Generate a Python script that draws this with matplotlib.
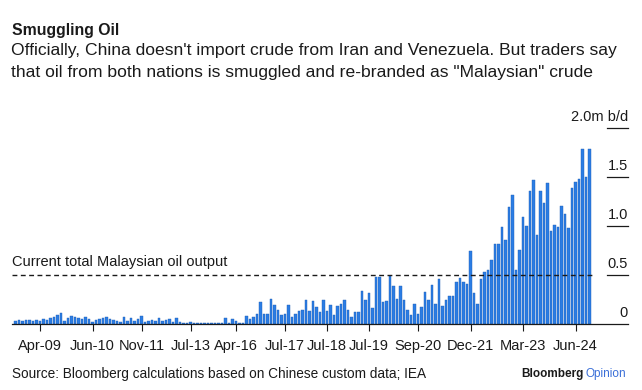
import matplotlib
matplotlib.use('Agg')
import matplotlib.pyplot as plt
import matplotlib.transforms as mtransforms

plt.rcParams['font.family'] = ['Liberation Sans', 'DejaVu Sans']

# monthly "Malaysian" crude imports into China, m b/d
values = [
    0.03, 0.04, 0.03, 0.04, 0.04, 0.03, 0.04, 0.03, 0.05, 0.04,
    0.06, 0.07, 0.09, 0.11, 0.03, 0.06, 0.08, 0.07, 0.06, 0.05,
    0.07, 0.05, 0.02, 0.04, 0.05, 0.06, 0.07, 0.05, 0.04, 0.03,
    0.02, 0.07, 0.03, 0.06, 0.03, 0.05, 0.08, 0.02, 0.03, 0.04,
    0.03, 0.06, 0.03, 0.04, 0.05, 0.02, 0.06, 0.02, 0.01, 0.01,
    0.02, 0.01, 0.01, 0.01, 0.01, 0.01, 0.01, 0.01, 0.01, 0.01,
    0.06, 0.01, 0.05, 0.03, 0.01, 0.01, 0.08, 0.05, 0.07, 0.10,
    0.22, 0.10, 0.10, 0.26, 0.19, 0.14, 0.09, 0.10, 0.19, 0.07,
    0.10, 0.13, 0.14, 0.24, 0.13, 0.23, 0.17, 0.12, 0.24, 0.13,
    0.19, 0.09, 0.18, 0.20, 0.24, 0.14, 0.07, 0.12, 0.12, 0.34,
    0.24, 0.32, 0.16, 0.48, 0.48, 0.22, 0.23, 0.49, 0.39, 0.26,
    0.39, 0.25, 0.14, 0.09, 0.20, 0.10, 0.17, 0.33, 0.24, 0.40,
    0.20, 0.46, 0.18, 0.25, 0.29, 0.29, 0.43, 0.47, 0.43, 0.41,
    0.75, 0.32, 0.20, 0.46, 0.53, 0.55, 0.65, 0.82, 0.82, 0.99,
    0.86, 1.19, 1.32, 0.55, 0.76, 1.09, 1.00, 1.36, 1.47, 0.91,
    1.36, 1.23, 1.44, 0.95, 1.01, 0.99, 1.20, 1.12, 0.98, 1.39,
    1.45, 1.48, 1.79, 1.50, 1.79,
]

tick_labels = ['Apr-09', 'Jun-10', 'Nov-11', 'Jul-13', 'Apr-16', 'Jul-17',
               'Jul-18', 'Jul-19', 'Sep-20', 'Dec-21', 'Mar-23', 'Jun-24']
tick_index = [7, 22, 36, 50, 63, 77, 89, 101, 115, 130, 145, 160]

y_ticks = [0, 0.5, 1.0, 1.5, 2.0]
y_labels = ['0', '0.5', '1.0', '1.5', '2.0m b/d']

malaysia_output = 0.5

blue = '#2b7de4'
dark = '#1a1a1a'

fig = plt.figure(figsize=(6.42, 3.9), dpi=100)
ax = fig.add_axes([12 / 642, 66 / 390, 616 / 642, 196 / 390])

x = list(range(len(values)))
ax.bar(x, values, width=0.78, color=blue, edgecolor='#1f5fb5', linewidth=0.3)

ax.set_xlim(-1, 175)
ax.set_ylim(0, 2.0)

for s in ['top', 'right', 'left']:
    ax.spines[s].set_visible(False)
ax.spines['bottom'].set_color(dark)
ax.spines['bottom'].set_linewidth(0.9)

ax.set_xticks(tick_index)
ax.set_xticklabels(tick_labels, fontsize=10.5, color=dark)
ax.tick_params(axis='x', length=5, width=0.8, color=dark, pad=6)
ax.set_yticks([])

# right-hand value scale: short rules with labels sitting on top
trans = mtransforms.blended_transform_factory(ax.transAxes, ax.transData)
for v, lab in zip(y_ticks, y_labels):
    if v > 0:
        ax.plot([0.966, 1.0], [v, v], transform=trans, color=dark, lw=0.9, clip_on=False)
    ax.text(1.0, v + 0.04, lab, transform=trans, ha='right', va='bottom',
            fontsize=10.5, color=dark, clip_on=False)

# Malaysian output reference line
ax.plot([0, 0.946], [malaysia_output, malaysia_output], transform=trans,
        color=dark, lw=1.0, ls=(0, (3.5, 2.5)))
ax.text(0, malaysia_output + 0.06, 'Current total Malaysian oil output', transform=trans,
        ha='left', va='bottom', fontsize=10.5, color=dark)

fig.text(12 / 642, 1 - 31 / 390, 'Smuggling Oil', fontsize=11.4, fontweight='bold',
         color=dark, va='center')
fig.text(11 / 642, 1 - 51 / 390,
         "Officially, China doesn't import crude from Iran and Venezuela. But traders say",
         fontsize=12.6, color=dark, va='center')
fig.text(11 / 642, 1 - 72 / 390,
         'that oil from both nations is smuggled and re-branded as "Malaysian" crude',
         fontsize=12.6, color=dark, va='center')

fig.text(12 / 642, 1 - 374 / 390,
         'Source: Bloomberg calculations based on Chinese custom data; IEA',
         fontsize=9.8, color=dark, va='center')
fig.text(584 / 642, 1 - 374 / 390, 'Bloomberg', fontsize=8.5, fontweight='bold',
         color=dark, va='center', ha='right')
fig.text(586 / 642, 1 - 374 / 390, 'Opinion', fontsize=8.5,
         color='#3a6fd8', va='center', ha='left')

fig.savefig('out.png', dpi=100)
